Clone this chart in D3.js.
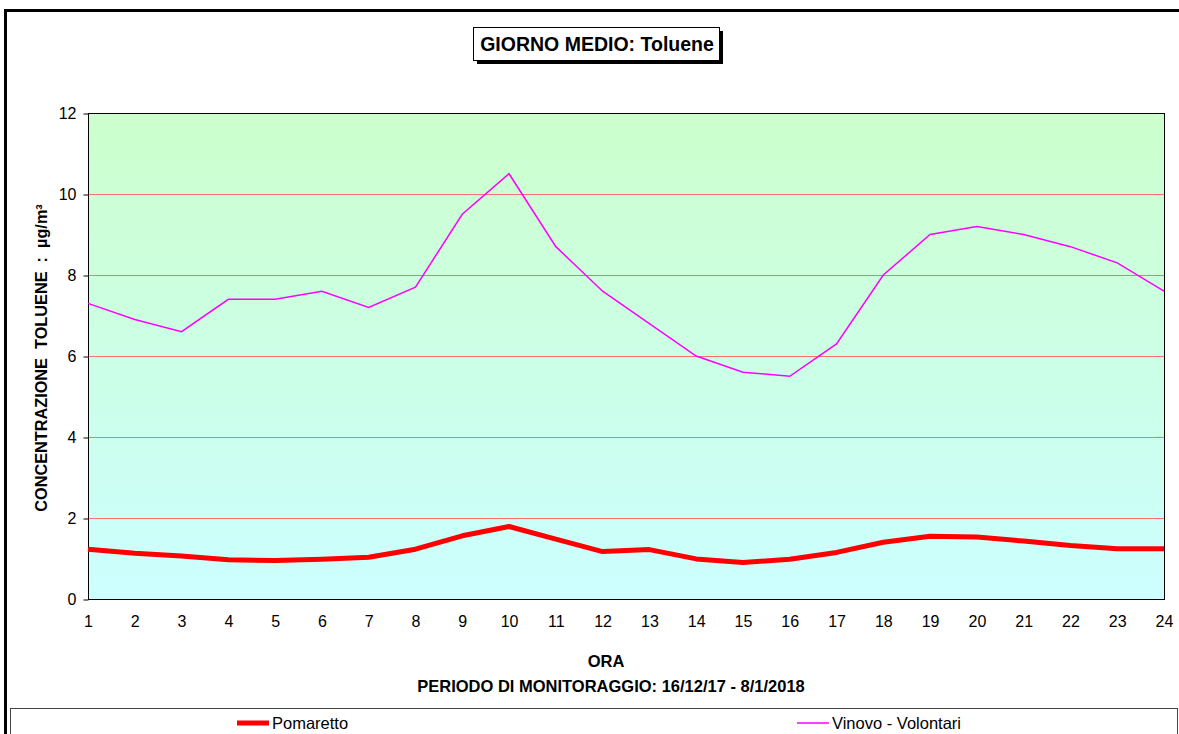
<!DOCTYPE html>
<html>
<head>
<meta charset="utf-8">
<script src="https://cdn.jsdelivr.net/npm/d3@7"></script>
<style>
  html, body { margin: 0; padding: 0; background: #fff; overflow: hidden; }
  svg { display: block; font-family: "Liberation Sans", Arial, sans-serif; }
</style>
</head>
<body>
<div id="chart"></div>
<script>
// hours on the x axis
var hours = [1, 2, 3, 4, 5, 6, 7, 8, 9, 10, 11, 12, 13, 14, 15, 16, 17, 18, 19, 20, 21, 22, 23, 24];
// mean day values, ug/m3
var pomaretto = [1.23, 1.13, 1.06, 0.97, 0.95, 0.98, 1.03, 1.23, 1.56, 1.79, 1.48, 1.17, 1.22, 0.99, 0.90, 0.98, 1.15, 1.40, 1.55, 1.53, 1.43, 1.32, 1.24, 1.24];
var vinovo = [7.3, 6.9, 6.6, 7.4, 7.4, 7.6, 7.2, 7.7, 9.5, 10.5, 8.7, 7.6, 6.8, 6.0, 5.6, 5.5, 6.3, 8.0, 9.0, 9.2, 9.0, 8.7, 8.3, 7.6];
var yTicks = [0, 2, 4, 6, 8, 10, 12];
var seriesNames = ["Pomaretto", "Vinovo - Volontari"];

var W = 1179, H = 734;
var plot = { left: 88, right: 1164, top: 113, bottom: 599 };

var svg = d3.select("#chart").append("svg")
	.attr("width", W)
	.attr("height", H);

// outer frame (runs off the right and bottom edge)
svg.append("rect")
	.attr("x", 5.5).attr("y", 10.5)
	.attr("width", W + 20).attr("height", H + 20)
	.attr("fill", "white")
	.attr("stroke", "black")
	.attr("stroke-width", 3);

// background gradient of the plot area
var defs = svg.append("defs");
var grad = defs.append("linearGradient")
	.attr("id", "bg")
	.attr("x1", 0).attr("y1", 0).attr("x2", 0).attr("y2", 1);
grad.append("stop").attr("offset", "0%").attr("stop-color", "#ccffcc");
grad.append("stop").attr("offset", "100%").attr("stop-color", "#ccffff");

var x = d3.scaleLinear().domain([1, 24]).range([plot.left, plot.right]);
var y = d3.scaleLinear().domain([0, 12]).range([plot.bottom, plot.top]);

svg.append("rect")
	.attr("x", plot.left).attr("y", plot.top)
	.attr("width", plot.right - plot.left)
	.attr("height", plot.bottom - plot.top)
	.attr("fill", "url(#bg)");

// horizontal gridlines
svg.append("g")
	.selectAll("line")
	.data(yTicks.filter(function (d) { return d > 0 && d < 12; }))
	.enter()
	.append("line")
	.attr("x1", plot.left).attr("x2", plot.right)
	.attr("y1", function (d) { return Math.round(y(d)) + 0.5; })
	.attr("y2", function (d) { return Math.round(y(d)) + 0.5; })
	.attr("stroke", "#ff7070")
	.attr("stroke-width", 1);

// plot border
svg.append("rect")
	.attr("x", plot.left + 0.5).attr("y", plot.top + 0.5)
	.attr("width", plot.right - plot.left)
	.attr("height", plot.bottom - plot.top)
	.attr("fill", "none")
	.attr("stroke", "black")
	.attr("stroke-width", 1);

// y axis
var yAxis = svg.append("g")
	.attr("transform", "translate(" + (plot.left + 0.5) + ",0.5)")
	.call(d3.axisLeft(y).tickValues(yTicks).tickSize(5).tickPadding(7).tickFormat(d3.format("d")));
yAxis.select(".domain").remove();
yAxis.attr("font-family", null);
yAxis.selectAll("text").attr("fill", "black").style("font-size", "16px");

// x axis labels
var xAxis = svg.append("g")
	.attr("transform", "translate(0," + (plot.bottom + 0.5) + ")")
	.call(d3.axisBottom(x).tickValues(hours).tickSize(0).tickPadding(16).tickFormat(d3.format("d")));
xAxis.select(".domain").remove();
xAxis.attr("font-family", null);
xAxis.selectAll("text").attr("fill", "black").style("font-size", "16px");

// lines
var line = function (vals) {
	return d3.line()
		.x(function (d, i) { return x(hours[i]); })
		.y(function (d) { return y(d); })(vals);
};

svg.append("path")
	.attr("d", line(vinovo))
	.attr("fill", "none")
	.attr("stroke", "#ff00ff")
	.attr("stroke-width", 1.5);

svg.append("path")
	.attr("d", line(pomaretto))
	.attr("fill", "none")
	.attr("stroke", "#ff0000")
	.attr("stroke-width", 5)
	.attr("stroke-linejoin", "round");

// title box with shadow
svg.append("rect")
	.attr("x", 477).attr("y", 31)
	.attr("width", 246).attr("height", 33)
	.attr("fill", "black");
svg.append("rect")
	.attr("x", 473.5).attr("y", 27.5)
	.attr("width", 246).attr("height", 33)
	.attr("fill", "white")
	.attr("stroke", "black")
	.attr("stroke-width", 1);
svg.append("text")
	.attr("x", 597).attr("y", 51)
	.attr("text-anchor", "middle")
	.attr("font-size", "19.5px")
	.attr("font-weight", "bold")
	.text("GIORNO MEDIO: Toluene");

// axis titles
svg.append("text")
	.attr("x", 606).attr("y", 667)
	.attr("text-anchor", "middle")
	.attr("font-size", "16.5px")
	.attr("font-weight", "bold")
	.text("ORA");
svg.append("text")
	.attr("x", 611).attr("y", 692)
	.attr("text-anchor", "middle")
	.attr("font-size", "16.5px")
	.attr("font-weight", "bold")
	.text("PERIODO DI MONITORAGGIO: 16/12/17 - 8/1/2018");
svg.append("text")
	.attr("transform", "translate(47,358) rotate(-90)")
	.attr("text-anchor", "middle")
	.attr("font-size", "16.3px")
	.attr("font-weight", "bold")
	.attr("xml:space", "preserve")
	.text("CONCENTRAZIONE  TOLUENE  :  \u00b5g/m\u00b3");

// legend
svg.append("rect")
	.attr("x", 10.5).attr("y", 708.5)
	.attr("width", 1167).attr("height", 40)
	.attr("fill", "white")
	.attr("stroke", "#444")
	.attr("stroke-width", 1);

var legend = svg.selectAll(".leg")
	.data(seriesNames)
	.enter()
	.append("g")
	.attr("class", "leg")
	.attr("transform", function (d, i) { return "translate(" + (i == 0 ? 237 : 797) + ",723)"; });
legend.append("line")
	.attr("x1", 0).attr("x2", 32)
	.attr("y1", 0).attr("y2", 0)
	.attr("stroke", function (d, i) { return i == 0 ? "#ff0000" : "#ff00ff"; })
	.attr("stroke-width", function (d, i) { return i == 0 ? 5 : 1.5; });
legend.append("text")
	.attr("x", 35).attr("y", 6)
	.attr("font-size", "16.5px")
	.text(function (d) { return d; });
</script>
</body>
</html>
